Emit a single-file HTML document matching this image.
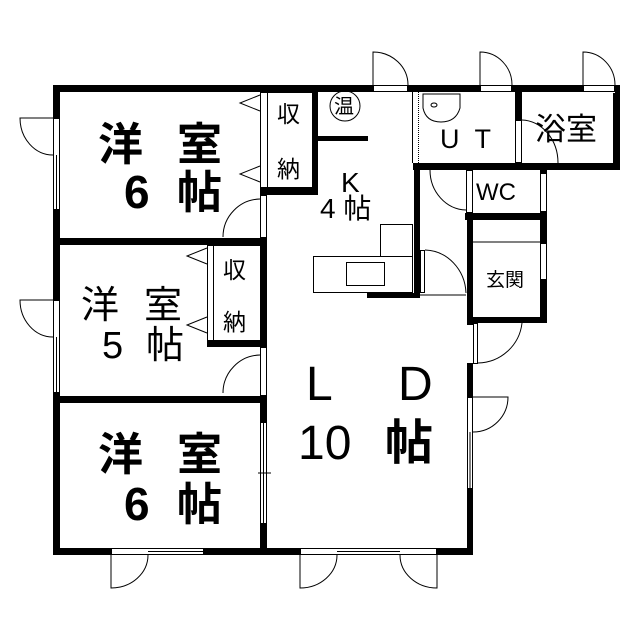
<!DOCTYPE html>
<html><head><meta charset="utf-8"><style>
html,body{margin:0;padding:0;background:#fff;}
svg{display:block}
text{font-family:"Liberation Sans","Noto Sans CJK JP",sans-serif;fill:#000}
</style></head><body>
<svg width="639" height="640" viewBox="0 0 639 640" xmlns="http://www.w3.org/2000/svg">
<g fill="#000">
<rect x="53" y="85" width="567" height="7"/>
<rect x="53" y="85" width="7" height="470"/>
<rect x="53" y="548" width="420" height="7"/>
<rect x="53" y="238" width="214" height="7"/>
<rect x="53" y="396" width="214" height="7"/>
<rect x="260" y="187" width="7" height="368"/>
<rect x="312" y="85" width="6" height="110"/>
<rect x="260" y="187" width="58" height="8"/>
<rect x="207" y="340" width="60" height="7"/>
<rect x="318" y="136" width="50" height="5"/>
<rect x="414" y="163" width="6" height="135"/>
<rect x="367" y="293" width="53" height="5"/>
<rect x="413" y="163" width="207" height="7"/>
<rect x="613" y="85" width="7" height="85"/>
<rect x="515" y="85" width="7" height="35"/>
<rect x="465" y="213" width="82" height="7"/>
<rect x="540" y="163" width="7" height="160"/>
<rect x="467" y="213" width="6" height="342"/>
<rect x="467" y="317" width="80" height="6"/>
</g>
<g fill="#fff">
<rect x="52" y="118" width="9" height="92"/>
<rect x="52" y="300" width="9" height="93"/>
<rect x="259" y="195" width="9" height="43"/>
<rect x="259" y="347" width="9" height="49"/>
<rect x="259" y="422" width="9" height="102"/>
<rect x="111" y="547" width="92" height="9"/>
<rect x="300" y="547" width="137" height="9"/>
<rect x="466" y="325" width="8" height="38"/>
<rect x="466" y="397" width="8" height="92"/>
<rect x="466" y="170" width="8" height="43"/>
<rect x="539" y="173" width="9" height="39"/>
<rect x="539" y="243" width="9" height="37"/>
<rect x="514" y="120" width="9" height="43"/>
<rect x="373" y="84" width="35" height="9"/>
<rect x="480" y="84" width="32" height="9"/>
<rect x="583" y="84" width="32" height="9"/>
<rect x="420" y="292" width="47" height="7"/>
</g>
<g fill="none" stroke="#000" stroke-width="1">
<rect x="53.5" y="118.5" width="6" height="91"/><line x1="56.5" y1="155" x2="56.5" y2="210"/>
<path d="M53 118 H20 A33 37 0 0 0 53 155"/>
<rect x="53.5" y="300.5" width="6" height="92"/><line x1="56.5" y1="337" x2="56.5" y2="393"/>
<path d="M53 300 H20 A33 37 0 0 0 53 337"/>
<rect x="260.5" y="92.5" width="7" height="95"/><rect x="267.5" y="92.5" width="45" height="95"/>
<path d="M260 95 L240 103 L260 111"/><path d="M260 166 L240 174 L260 182"/>
<rect x="260.5" y="195.5" width="6" height="42"/><path d="M260 199 A38 38 0 0 0 223 237"/>
<rect x="207.5" y="245.5" width="6" height="95"/><rect x="213.5" y="245.5" width="47" height="95"/>
<path d="M207 248 L187 256 L207 264"/><path d="M207 317 L187 325 L207 333"/>
<rect x="260.5" y="347.5" width="6" height="48"/><path d="M260 355 A38 38 0 0 0 223 393"/>
<rect x="260.5" y="422.5" width="6" height="101"/><line x1="263.5" y1="422" x2="263.5" y2="524"/><line x1="258" y1="473" x2="271" y2="473"/>
<rect x="111.5" y="548.5" width="92" height="6"/><line x1="148" y1="551.5" x2="203" y2="551.5"/>
<path d="M111 555 V588 A37 33 0 0 0 148 555"/>
<rect x="300.5" y="548.5" width="136" height="6"/><line x1="337" y1="551.5" x2="400" y2="551.5"/>
<path d="M300 555 V588 A37 33 0 0 0 337 555"/>
<path d="M437 555 V588 A37 33 0 0 1 400 555"/>
<rect x="467.5" y="397.5" width="5" height="91"/><line x1="470" y1="432" x2="470" y2="488"/>
<path d="M473 397 H508 A35 35 0 0 1 473 432"/>
<rect x="473.5" y="323.5" width="4" height="40"/>
<path d="M478 363 A45 45 0 0 0 522 323"/>
<line x1="473" y1="242" x2="540" y2="242"/>
<rect x="540.5" y="243.5" width="6" height="36"/>
<rect x="466.5" y="170.5" width="6" height="42"/>
<path d="M430 170 A37 40 0 0 0 466 210"/>
<rect x="540.5" y="173.5" width="6" height="38"/>
<rect x="420.5" y="250.5" width="4" height="42"/><line x1="420" y1="295" x2="466" y2="295"/>
<path d="M425 250 A42 45 0 0 1 466 293"/>
<path d="M373 85 V52 A35 33 0 0 1 408 85"/><rect x="373.5" y="85.5" width="34" height="6"/>
<path d="M480 85 V52 A32 33 0 0 1 512 85"/><rect x="480.5" y="85.5" width="31" height="6"/>
<path d="M583 85 V52 A32 33 0 0 1 615 85"/><rect x="583.5" y="85.5" width="31" height="6"/>
<rect x="515.5" y="120.5" width="6" height="42"/><path d="M522 120 A37 43 0 0 1 558 163"/>
<line x1="412.5" y1="92" x2="412.5" y2="163"/><line x1="418.5" y1="92" x2="418.5" y2="163" stroke-dasharray="1 1"/>
<path d="M423 94 H460 V108 Q456 122 441 122 Q426 122 423 108 Z"/>
<ellipse cx="434" cy="105" rx="3" ry="2"/>
<circle cx="345" cy="106" r="15"/>
<rect x="380.5" y="224.5" width="32" height="32"/>
<rect x="313.5" y="256.5" width="99" height="36"/>
<rect x="346.5" y="262.5" width="38" height="23"/>
</g>
<g font-weight="bold" font-size="45">
<text x="98" y="160">洋</text><text x="177" y="160">室</text>
<text x="124" y="208" font-size="46">6</text><text x="177" y="208">帖</text>
<text x="98" y="470">洋</text><text x="177" y="470">室</text>
<text x="124" y="520" font-size="46">6</text><text x="177" y="520">帖</text>
</g>
<g font-size="38">
<text x="81" y="318">洋</text><text x="144" y="318">室</text>
<text x="102" y="358">5</text><text x="146" y="358">帖</text>
</g>
<g font-size="48">
<text x="306" y="400">L</text><text x="398" y="400">D</text>
<text x="298" y="459">10</text><text x="385" y="459" font-weight="bold">帖</text>
</g>
<g font-size="23">
<text x="277" y="122">収</text><text x="277" y="177">納</text>
<text x="223" y="278">収</text><text x="223" y="330">納</text>
</g>
<text x="334" y="113" font-size="20">温</text>
<text x="341" y="192" font-size="28">K</text>
<text x="320" y="218" font-size="28">4 帖</text>
<text x="440" y="148" font-size="27" letter-spacing="4">U T</text>
<text x="535" y="140" font-size="31">浴室</text>
<text x="476" y="200" font-size="24">WC</text>
<text x="486" y="286" font-size="19">玄関</text>
</svg>
</body></html>
